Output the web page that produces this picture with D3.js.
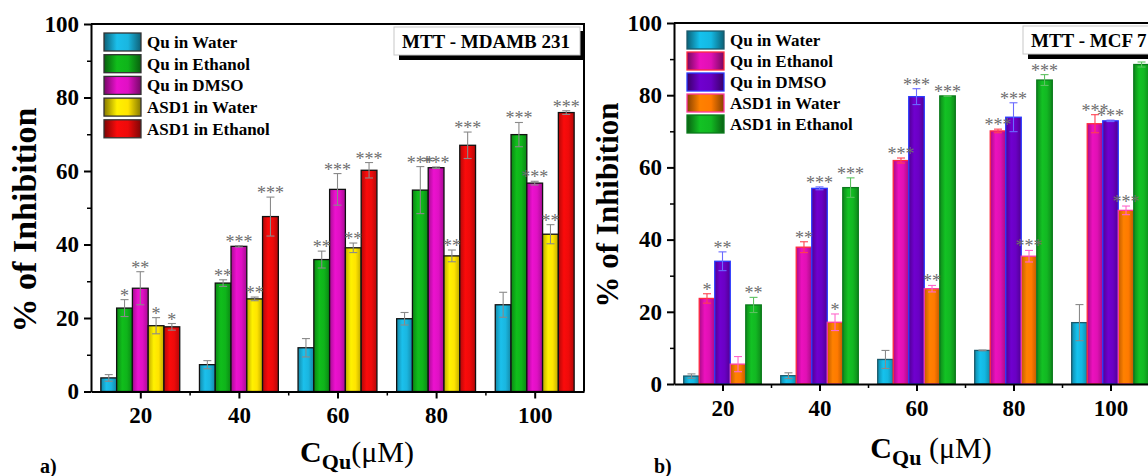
<!DOCTYPE html>
<html>
<head>
<meta charset="utf-8">
<script src="https://cdn.jsdelivr.net/npm/d3@7"></script>
<style>
body { margin: 0; background: #fff; }
svg text { font-family: "Liberation Serif", "Times New Roman", serif; }
</style>
</head>
<body>
<svg id="chart" width="1148" height="476"></svg>
<script>
// shared categories and ticks
var concs = [20, 40, 60, 80, 100];
var seriesNames = ["Qu in Water", "Qu in Ethanol", "Qu in DMSO", "ASD1 in Water", "ASD1 in Ethanol"];
var yTicks = [0, 20, 40, 60, 80, 100];
var yMinor = [10, 30, 50, 70, 90];
var xMinor = [30, 50, 70, 90];

// panel a) MTT - MDAMB 231
var mdaQuWater = [3.7, 7.3, 11.9, 19.8, 23.6];
var mdaQuWaterErr = [0.9, 1.1, 2.5, 1.7, 3.4];
var mdaQuEthanol = [22.7, 29.5, 35.9, 54.8, 69.9];
var mdaQuEthanolErr = [2.3, 0.9, 2.3, 6.4, 3.3];
var mdaQuDmso = [28.1, 39.5, 55.0, 60.9, 56.7];
var mdaQuDmsoErr = [4.5, 0.2, 4.3, 0.2, 0.5];
var mdaAsdWater = [17.9, 25.2, 39.1, 36.9, 42.8];
var mdaAsdWaterErr = [2.2, 0.5, 1.3, 1.6, 2.6];
var mdaAsdEthanol = [17.6, 47.6, 60.2, 67.0, 75.9];
var mdaAsdEthanolErr = [0.9, 5.3, 2.1, 3.6, 0.5];
var mdaStars = [
  ["", "", "", "", ""],
  ["*", "**", "**", "***", "***"],
  ["**", "***", "***", "***", "***"],
  ["*", "**", "**", "**", "**"],
  ["*", "***", "***", "***", "***"]
];

// panel b) MTT - MCF 7
var mcfQuWater = [2.2, 2.3, 6.8, 9.3, 17.0];
var mcfQuWaterErr = [0.6, 0.8, 2.5, 0.1, 5.0];
var mcfQuEthanol = [23.7, 37.9, 61.9, 70.1, 72.1];
var mcfQuEthanolErr = [1.3, 1.5, 0.7, 0.5, 2.5];
var mcfQuDmso = [34.0, 54.2, 79.6, 73.9, 72.9];
var mcfQuDmsoErr = [2.6, 0.4, 2.2, 4.0, 0.2];
var mcfAsdWater = [5.5, 17.1, 26.4, 35.4, 48.1];
var mcfAsdWaterErr = [2.1, 2.3, 0.9, 1.6, 1.2];
var mcfAsdEthanol = [21.9, 54.4, 79.8, 84.2, 88.5];
var mcfAsdEthanolErr = [2.1, 2.7, 0.1, 1.5, 0.7];
var mcfStars = [
  ["", "", "", "", ""],
  ["*", "**", "***", "***", "***"],
  ["**", "***", "***", "***", "***"],
  ["", "*", "**", "***", "***"],
  ["**", "***", "***", "***", "***"]
];

var svg = d3.select("#chart");
var defs = svg.append("defs");

svg.append("rect").attr("width", 1148).attr("height", 476).attr("fill", "#fff");

function drawPanel(p) {
  var x = d3.scaleLinear().domain([10, 110]).range(p.xRange);
  var y = d3.scaleLinear().domain([0, 100]).range(p.yRange);
  var g = svg.append("g");
  var groupHalf = 8, barW = 3.2; // in x units

  // gradients: darker edges, light middle
  p.colors.forEach(function(c, i) {
    [["bar", 0.8], ["leg", 1.8]].forEach(function(k) {
      var grad = defs.append("linearGradient")
        .attr("id", p.id + k[0] + i)
        .attr("x1", "0%").attr("x2", "100%").attr("y1", "0%").attr("y2", "0%");
      var dark = d3.color(c).darker(k[1]).formatHex();
      grad.append("stop").attr("offset", "0%").attr("stop-color", dark);
      grad.append("stop").attr("offset", "35%").attr("stop-color", d3.color(c).brighter(0.15).formatHex());
      grad.append("stop").attr("offset", "65%").attr("stop-color", c);
      grad.append("stop").attr("offset", "100%").attr("stop-color", dark);
    });
  });

  // build rows for the bars
  var rows = [];
  p.values.forEach(function(vals, i) {
    vals.forEach(function(v, j) {
      rows.push({s: i, c: concs[j], v: v, e: p.errors[i][j], star: p.stars[i][j]});
    });
  });

  g.selectAll("rect.bar")
    .data(rows)
    .enter().append("rect")
    .attr("class", "bar")
    .attr("x", function(d) { return x(d.c - groupHalf + d.s * barW); })
    .attr("width", function(d) { return x(d.c - groupHalf + (d.s + 1) * barW) - x(d.c - groupHalf + d.s * barW); })
    .attr("y", function(d) { return y(d.v); })
    .attr("height", function(d) { return y(0) - y(d.v); })
    .attr("fill", function(d) { return "url(#" + p.id + "bar" + d.s + ")"; })
    .attr("stroke", function(d) { return p.strokes[d.s]; })
    .attr("stroke-width", 1.3);

  // error bars
  var eb = g.selectAll("g.err")
    .data(rows)
    .enter().append("g")
    .attr("class", "err")
    .attr("stroke", function(d) { return p.errColors[d.s]; })
    .attr("stroke-width", 1.1)
    .attr("transform", function(d) { return "translate(" + x(d.c - groupHalf + (d.s + 0.5) * barW) + ",0)"; });
  eb.append("line")
    .attr("y1", function(d) { return y(d.v + d.e); })
    .attr("y2", function(d) { return y(Math.max(0, d.v - d.e)); });
  eb.append("line")
    .attr("x1", -4).attr("x2", 4)
    .attr("y1", function(d) { return y(d.v + d.e); })
    .attr("y2", function(d) { return y(d.v + d.e); });
  eb.append("line")
    .attr("x1", -4).attr("x2", 4)
    .attr("y1", function(d) { return y(Math.max(0, d.v - d.e)); })
    .attr("y2", function(d) { return y(Math.max(0, d.v - d.e)); });

  // significance stars
  g.selectAll("text.star")
    .data(rows.filter(function(d) { return d.star; }))
    .enter().append("text")
    .attr("class", "star")
    .attr("x", function(d) { return x(d.c - groupHalf + (d.s + 0.5) * barW); })
    .attr("y", function(d) { return y(d.v + d.e) + 2; })
    .attr("text-anchor", "middle")
    .attr("font-size", 18)
    .attr("fill", "#6e6e6e")
    .text(function(d) { return d.star; });

  // frame top and right
  g.append("path")
    .attr("d", "M" + x(10) + "," + y(100) + "H" + x(110) + "V" + y(0))
    .attr("fill", "none")
    .attr("stroke", "#000")
    .attr("stroke-width", 2);

  // axes
  var yAx = g.append("g")
    .attr("transform", "translate(" + x(10) + ",0)")
    .call(d3.axisLeft(y).tickValues(yTicks).tickSize(7).tickSizeOuter(0));
  yAx.select(".domain").attr("stroke-width", 2);
  yAx.selectAll(".tick line").attr("stroke-width", 2);
  yAx.selectAll(".tick text")
    .attr("x", -12)
    .attr("font-size", 23)
    .attr("font-weight", "bold")
    .attr("font-family", "Liberation Serif, serif");

  g.append("g")
    .attr("transform", "translate(" + x(10) + ",0)")
    .call(d3.axisLeft(y).tickValues(yMinor).tickSize(4).tickFormat(""))
    .call(function(a) { a.select(".domain").remove(); a.selectAll(".tick line").attr("stroke-width", 1.5); });

  var xAx = g.append("g")
    .attr("transform", "translate(0," + y(0) + ")")
    .call(d3.axisBottom(x).tickValues(concs).tickSize(7).tickSizeOuter(0));
  xAx.select(".domain").attr("stroke-width", 2);
  xAx.selectAll(".tick line").attr("stroke-width", 2);
  xAx.selectAll(".tick text")
    .attr("y", p.xLabelY - y(0))
    .attr("dy", 0)
    .attr("font-size", 23)
    .attr("font-weight", "bold")
    .attr("font-family", "Liberation Serif, serif");

  g.append("g")
    .attr("transform", "translate(0," + y(0) + ")")
    .call(d3.axisBottom(x).tickValues(xMinor).tickSize(4).tickFormat(""))
    .call(function(a) { a.select(".domain").remove(); a.selectAll(".tick line").attr("stroke-width", 1.5); });

  // axis titles
  g.append("text")
    .attr("transform", "translate(" + p.yTitle[0] + "," + p.yTitle[1] + ") rotate(-90)")
    .attr("text-anchor", "middle")
    .attr("font-size", p.yTitle[2])
    .attr("font-weight", "bold")
    .text("% of Inhibition");

  var xt = g.append("text")
    .attr("x", p.xTitle[0])
    .attr("y", p.xTitle[1])
    .attr("text-anchor", "middle")
    .attr("font-size", 30)
    .attr("font-weight", "bold");
  xt.append("tspan").text("C");
  xt.append("tspan").attr("font-size", 22).attr("dy", 7).text("Qu");
  xt.append("tspan").attr("dy", -7).attr("font-weight", "normal").text(p.unit);

  // panel letter
  g.append("text")
    .attr("x", p.letter[0])
    .attr("y", p.letter[1])
    .attr("font-size", 20)
    .attr("font-weight", "bold")
    .text(p.letterText);

  // legend
  var leg = g.append("g")
    .selectAll("g")
    .data(seriesNames)
    .enter().append("g")
    .attr("transform", function(d, i) { return "translate(" + (x(10) + 13) + "," + (p.legendTop + i * p.legendStep) + ")"; });
  leg.append("rect")
    .attr("width", 37)
    .attr("height", 18)
    .attr("fill", function(d, i) { return "url(#" + p.id + "leg" + i + ")"; })
    .attr("stroke", function(d, i) { return p.legStrokes[i]; })
    .attr("stroke-width", 1.3);
  leg.append("text")
    .attr("x", 43)
    .attr("y", 9)
    .attr("dy", "0.35em")
    .attr("font-size", 17)
    .attr("font-weight", "bold")
    .text(function(d) { return d; });

  // title box with shadow
  var bx = p.box[0], bw = x(110) - 4 - bx, by = y(100) + 3, bh = 28;
  g.append("rect").attr("x", bx + 5).attr("y", by + 4).attr("width", bw).attr("height", bh + 1).attr("fill", "#000");
  g.append("rect").attr("x", bx).attr("y", by).attr("width", bw).attr("height", bh)
    .attr("fill", "#fff").attr("stroke", "#c8c8c8").attr("stroke-width", 1);
  g.append("text")
    .attr("x", bx + 8)
    .attr("y", by + bh / 2)
    .attr("dy", "0.35em")
    .attr("font-size", 19)
    .attr("font-weight", "bold")
    .text(p.title);
}

drawPanel({
  id: "a",
  values: [mdaQuWater, mdaQuEthanol, mdaQuDmso, mdaAsdWater, mdaAsdEthanol],
  errors: [mdaQuWaterErr, mdaQuEthanolErr, mdaQuDmsoErr, mdaAsdWaterErr, mdaAsdEthanolErr],
  stars: mdaStars,
  colors: ["#1ab6e0", "#0fb41a", "#e010c4", "#ffe400", "#ee0a0a"],
  strokes: ["#111", "#111", "#111", "#111", "#111"],
  legStrokes: ["#333", "#333", "#333", "#333", "#333"],
  errColors: ["#8a8a8a", "#8a8a8a", "#8a8a8a", "#8a8a8a", "#8a8a8a"],
  xRange: [91, 584],
  yRange: [391.5, 24],
  xLabelY: 423,
  yTitle: [36, 220, 34],
  xTitle: [357, 462],
  unit: "(\u03bcM)",
  letter: [40, 473],
  letterText: "a)",
  legendTop: 33,
  legendStep: 21.7,
  box: [394],
  title: "MTT - MDAMB 231"
});

drawPanel({
  id: "b",
  values: [mcfQuWater, mcfQuEthanol, mcfQuDmso, mcfAsdWater, mcfAsdEthanol],
  errors: [mcfQuWaterErr, mcfQuEthanolErr, mcfQuDmsoErr, mcfAsdWaterErr, mcfAsdEthanolErr],
  stars: mcfStars,
  colors: ["#14b8e2", "#e010b4", "#6a00c4", "#ff7a00", "#12b822"],
  strokes: ["#1c5a6c", "#ff2a40", "#2a3aff", "#ff3aa0", "#0b7a1c"],
  legStrokes: ["#1c5a6c", "#ff2a40", "#2a3aff", "#ff3aa0", "#0b7a1c"],
  errColors: ["#8a8a8a", "#ff4050", "#6a6aff", "#ff66cc", "#5cc060"],
  xRange: [674, 1159],
  yRange: [384, 23],
  xLabelY: 416,
  yTitle: [618, 205, 31],
  xTitle: [931, 458],
  unit: " (\u03bcM)",
  letter: [654, 473],
  letterText: "b)",
  legendTop: 31,
  legendStep: 21,
  box: [1023],
  title: "MTT - MCF 7"
});
</script>
</body>
</html>
